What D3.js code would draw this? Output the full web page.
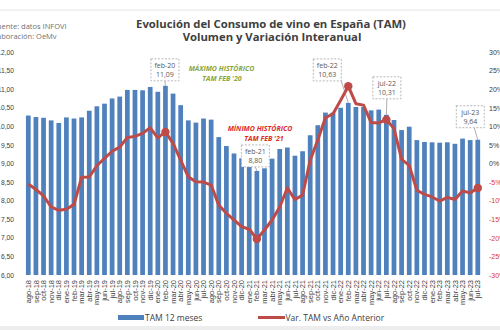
<!DOCTYPE html>
<html>
<head>
<meta charset="utf-8">
<script src="https://cdn.jsdelivr.net/npm/d3@7"></script>
<style>
  body { margin: 0; background: #ffffff; }
  svg { display: block; font-family: "Open Sans", "DejaVu Sans", sans-serif; }
</style>
</head>
<body>
<svg id="chart" width="500" height="330"></svg>
<script>
// Monthly categories (TAM = total anual móvil)
const months = [
  "ago-18","sep-18","oct-18","nov-18","dic-18","ene-19","feb-19","mar-19","abr-19","may-19",
  "jun-19","jul-19","ago-19","sep-19","oct-19","nov-19","dic-19","ene-20","feb-20","mar-20",
  "abr-20","may-20","jun-20","jul-20","ago-20","sep-20","oct-20","nov-20","dic-20","ene-21",
  "feb-21","mar-21","abr-21","may-21","jun-21","jul-21","ago-21","sep-21","oct-21","nov-21",
  "dic-21","ene-22","feb-22","mar-22","abr-22","may-22","jun-22","jul-22","ago-22","sep-22",
  "oct-22","nov-22","dic-22","ene-23","feb-23","mar-23","abr-23","may-23","jun-23","jul-23"
];

// TAM 12 meses (millones de hl)
const tamValues = [
  10.29, 10.25, 10.23, 10.16, 10.09, 10.24, 10.21, 10.24, 10.42, 10.54,
  10.61, 10.75, 10.80, 10.98, 10.98, 10.97, 11.06, 10.93, 11.09, 10.88,
  10.57, 10.16, 10.10, 10.21, 10.18, 9.71, 9.47, 9.27, 9.14, 8.92,
  8.80, 8.87, 9.13, 9.39, 9.43, 9.21, 9.33, 9.76, 10.03, 10.37,
  10.37, 10.50, 10.63, 10.52, 10.52, 10.43, 10.45, 10.31, 10.17, 9.90,
  9.99, 9.63, 9.58, 9.57, 9.56, 9.57, 9.53, 9.67, 9.63, 9.64
];

// Var. TAM vs Año Anterior (%)
const varValues = [
  -5.5, -7.0, -8.7, -11.7, -12.6, -12.3, -11.0, -3.7, -3.6, -0.6,
  1.4, 3.3, 4.4, 7.0, 7.3, 8.1, 9.6, 6.9, 8.5, 5.4,
  0.9, -3.6, -4.9, -5.0, -5.8, -11.2, -13.4, -15.2, -17.0, -17.7,
  -20.3, -17.9, -15.2, -11.7, -6.6, -9.7, -8.5, 0.9, 6.3, 12.3,
  13.4, 17.0, 20.8, 16.1, 15.7, 11.0, 10.9, 11.8, 9.4, 1.1,
  -0.5, -7.2, -8.3, -9.0, -10.1, -9.1, -9.7, -7.4, -7.9, -6.6
];

const leftTicks = [6, 6.5, 7, 7.5, 8, 8.5, 9, 9.5, 10, 10.5, 11, 11.5, 12];
const rightTicks = [-30, -25, -20, -15, -10, -5, 0, 5, 10, 15, 20, 25, 30];

// Months that carry a marker and a value callout
const markedMonths = ["feb-20", "feb-21", "feb-22", "jul-22", "jul-23"];

// Callout placement relative to the bar top: [dx of box centre, gap above bar top]
const calloutLayout = {
  "feb-20": [-0.5, 5],
  "feb-21": [-1.5, 4],
  "feb-22": [-21, 22],
  "jul-22": [0.5, 16],
  "jul-23": [-7.5, 12]
};

const BAR = "#4f81bd";
const LINE = "#be4b48";
const TEXT = "#404040";
const NEG = "#e0352f";

const svg = d3.select("#chart");

const locale = d3.formatLocale({ decimal: ",", thousands: ".", grouping: [3], currency: ["", "€"] });
const fmt2 = locale.format(".2f");

const x = d3.scaleBand()
  .domain(months)
  .range([24.5, 481.6])
  .paddingInner(0.38)
  .paddingOuter(0.19);

const yL = d3.scaleLinear().domain([6, 12]).range([275, 52]);
const yR = d3.scaleLinear().domain([-30, 30]).range([275, 52]);

// frame decorations
svg.append("line")
  .attr("x1", 0).attr("x2", 500).attr("y1", 10).attr("y2", 10)
  .attr("stroke", "#e4e4e4").attr("stroke-width", 1);
svg.append("rect")
  .attr("x", 0).attr("y", 326).attr("width", 500).attr("height", 4)
  .attr("fill", "#ededed");

// source notes
const src = svg.append("g").attr("fill", "#707070").attr("font-size", 7.5);
src.append("text").attr("x", -7).attr("y", 29).text("Fuente: datos INFOVI");
src.append("text").attr("x", -9).attr("y", 39).text("Elaboración: OeMv");

// title
const title = svg.append("g")
  .attr("fill", TEXT).attr("font-weight", 700).attr("font-size", 11.3)
  .attr("text-anchor", "middle");
title.append("text").attr("x", 271).attr("y", 27.5)
  .text("Evolución del Consumo de vino en España (TAM)");
title.append("text").attr("x", 272).attr("y", 40.5)
  .text("Volumen y Variación Interanual");

// left axis
const axL = svg.append("g").attr("transform", "translate(14,0)")
  .call(d3.axisLeft(yL).tickValues(leftTicks).tickSize(0).tickPadding(0).tickFormat(fmt2));
axL.select(".domain").remove();
axL.selectAll("text").attr("fill", TEXT).attr("font-size", 6.7).attr("font-family", null);

// right axis
const axR = svg.append("g").attr("transform", "translate(489,0)")
  .call(d3.axisRight(yR).tickValues(rightTicks).tickSize(0).tickPadding(0).tickFormat(d => d + "%"));
axR.select(".domain").remove();
axR.selectAll("text")
  .attr("fill", d => d < 0 ? NEG : TEXT)
  .attr("font-size", 7).attr("font-family", null);

// bottom axis with rotated month labels
const axB = svg.append("g").attr("transform", "translate(0,275)")
  .call(d3.axisBottom(x).tickSize(0));
axB.select(".domain").remove();
axB.selectAll("text")
  .attr("transform", "rotate(-90)")
  .attr("text-anchor", "end")
  .attr("x", -5).attr("y", 0).attr("dy", "0.35em")
  .attr("fill", TEXT).attr("font-size", 7.5).attr("font-family", null);

// bars
const data = months.map((m, i) => ({ m, tam: tamValues[i], v: varValues[i] }));
svg.append("g").selectAll("rect").data(data).join("rect")
  .attr("x", d => x(d.m))
  .attr("width", x.bandwidth())
  .attr("y", d => yL(d.tam))
  .attr("height", d => yL(6) - yL(d.tam))
  .attr("fill", BAR);

// callout leader lines (bar top to box)
const callouts = data.filter(d => markedMonths.includes(d.m));
const boxW = 28, boxH = 22;
const leader = svg.append("g").attr("stroke", "#9a9a9a").attr("stroke-width", 0.8);
callouts.forEach(d => {
  const [dx, gap] = calloutLayout[d.m];
  const cx = x(d.m) + x.bandwidth() / 2;
  const top = yL(d.tam);
  const bx = cx + dx;
  const by = top - gap;
  const ex = d.m === "feb-22" ? bx + boxW / 2 : (d.m === "jul-23" ? bx + 4 : bx);
  leader.append("line")
    .attr("x1", ex).attr("y1", by)
    .attr("x2", cx).attr("y2", top);
});

// variation line
const line = d3.line()
  .x(d => x(d.m) + x.bandwidth() / 2)
  .y(d => yR(d.v))
  .curve(d3.curveLinear);
svg.append("path").datum(data)
  .attr("d", line)
  .attr("fill", "none")
  .attr("stroke", LINE)
  .attr("stroke-width", 3)
  .attr("stroke-linejoin", "round");
svg.append("g").selectAll("circle").data(callouts).join("circle")
  .attr("cx", d => x(d.m) + x.bandwidth() / 2)
  .attr("cy", d => yR(d.v))
  .attr("r", 4.2)
  .attr("fill", LINE);

// callout boxes
const boxes = svg.append("g");
callouts.forEach(d => {
  const [dx, gap] = calloutLayout[d.m];
  const cx = x(d.m) + x.bandwidth() / 2 + dx;
  const by = yL(d.tam) - gap;
  const g = boxes.append("g");
  g.append("rect")
    .attr("x", cx - boxW / 2).attr("y", by - boxH)
    .attr("width", boxW).attr("height", boxH)
    .attr("fill", "#ffffff")
    .attr("stroke", "#a6a6a6").attr("stroke-width", 0.8)
    .attr("stroke-dasharray", "2,1.5");
  g.append("text").attr("x", cx).attr("y", by - boxH + 9)
    .attr("text-anchor", "middle").attr("font-size", 7).attr("fill", "#595959")
    .text(d.m);
  g.append("text").attr("x", cx).attr("y", by - 3.5)
    .attr("text-anchor", "middle").attr("font-size", 7).attr("fill", "#595959")
    .text(fmt2(d.tam));
});

// highlight notes
const maxNote = svg.append("g")
  .attr("fill", "#8ba63a").attr("font-size", 7).attr("font-weight", 700)
  .attr("font-style", "italic").attr("text-anchor", "middle");
maxNote.append("text").attr("x", 221.5).attr("y", 71).text("MÁXIMO HISTÓRICO");
maxNote.append("text").attr("x", 222).attr("y", 80.5).text("TAM FEB '20");

const minNote = svg.append("g")
  .attr("fill", "#e02b27").attr("font-size", 7).attr("font-weight", 700)
  .attr("font-style", "italic").attr("text-anchor", "middle");
minNote.append("text").attr("x", 260).attr("y", 131).text("MÍNIMO HISTÓRICO");
minNote.append("text").attr("x", 264).attr("y", 140.5).text("TAM FEB '21");

// legend
const lg = svg.append("g").attr("font-size", 8.5).attr("fill", TEXT);
lg.append("rect").attr("x", 118).attr("y", 315).attr("width", 26).attr("height", 5).attr("fill", BAR);
lg.append("text").attr("x", 145).attr("y", 321).text("TAM 12 meses");
lg.append("line").attr("x1", 258).attr("x2", 285).attr("y1", 317.5).attr("y2", 317.5)
  .attr("stroke", LINE).attr("stroke-width", 3);
lg.append("text").attr("x", 285.5).attr("y", 321).text("Var. TAM vs Año Anterior");
</script>
</body>
</html>
